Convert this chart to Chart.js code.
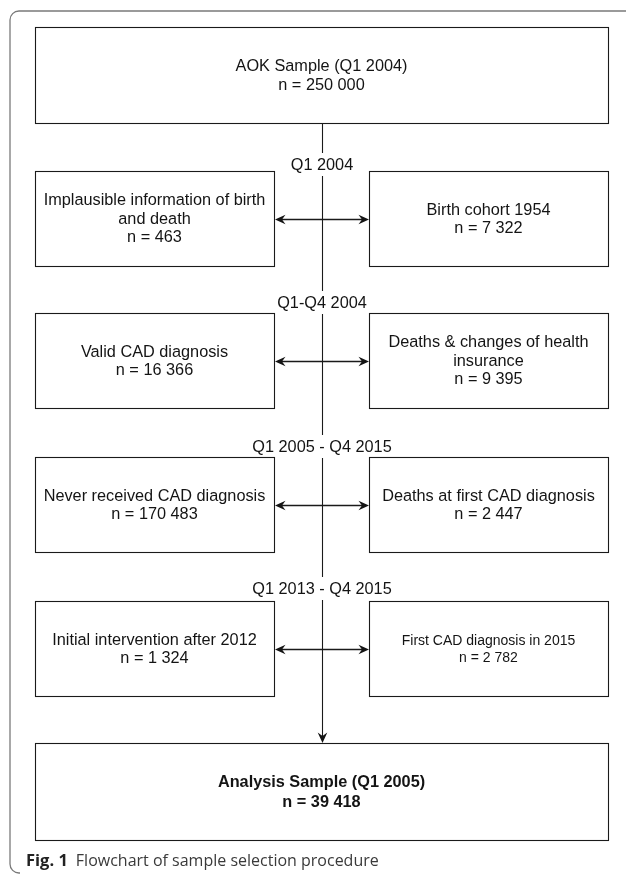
<!DOCTYPE html>
<html>
<head>
<meta charset="utf-8">
<script src="https://cdn.jsdelivr.net/npm/chart.js@4"></script>
<style>
  html, body { margin: 0; padding: 0; background: #fff; }
  #flow { display: block; }
</style>
</head>
<body>
<canvas id="flow" width="627" height="877"></canvas>
<script>
// sample selection steps
const startLabel = 'AOK Sample (Q1 2004)';
const startN = 250000;
const stages = ['Q1 2004', 'Q1-Q4 2004', 'Q1 2005 - Q4 2015', 'Q1 2013 - Q4 2015'];
const leftLabels = ['Implausible information of birth\nand death', 'Valid CAD diagnosis', 'Never received CAD diagnosis', 'Initial intervention after 2012'];
const leftN = [463, 16366, 170483, 1324];
const rightLabels = ['Birth cohort 1954', 'Deaths & changes of health\ninsurance', 'Deaths at first CAD diagnosis', 'First CAD diagnosis in 2015'];
const rightN = [7322, 9395, 2447, 2782];
const finalLabel = 'Analysis Sample (Q1 2005)';
const finalN = 39418;

// layout, in chart units (x: 0-627, y: 0-877 top down)
const layout = {
    mainX: [35, 608],
    startY: [27, 123],
    finalY: [743, 840],
    leftX: [35, 274],
    rightX: [369, 608],
    rowTop: [171, 313, 457, 601],
    rowH: 95,
    spineX: 322,
    stageY: [165, 303, 447, 589]
};

const fmt = n => String(n).replace(/\B(?=(\d{3})+(?!\d))/g, ' ');
const FONT = '"Liberation Sans", Arial, sans-serif';

const flowPlugin = {
    id: 'flow',
    afterDraw(chart) {
        const ctx = chart.ctx;
        const sx = chart.scales.x, sy = chart.scales.y;
        const X = v => sx.getPixelForValue(v);
        const Y = v => sy.getPixelForValue(v);

        ctx.save();

        // outer frame
        ctx.strokeStyle = '#7a7a7a';
        ctx.lineWidth = 1.3;
        ctx.beginPath();
        const r = 9;
        ctx.moveTo(X(626), Y(11));
        ctx.lineTo(X(10) + r, Y(11));
        ctx.arcTo(X(10), Y(11), X(10), Y(11) + r, r);
        ctx.lineTo(X(10), Y(873) - r);
        ctx.arcTo(X(10), Y(873), X(10) + r, Y(873), r);
        ctx.lineTo(X(20), Y(873));
        ctx.stroke();

        ctx.strokeStyle = '#1a1a1a';
        ctx.fillStyle = '#141414';
        ctx.lineWidth = 1.1;

        function box(x0, x1, y0, y1, lines, font, lh) {
            ctx.lineWidth = 1.1;
            ctx.strokeRect(Math.round(X(x0)) + 0.5, Math.round(Y(y0)) + 0.5,
                Math.round(X(x1) - X(x0)), Math.round(Y(y1) - Y(y0)));
            ctx.font = font;
            ctx.textAlign = 'center';
            ctx.textBaseline = 'middle';
            const cx = (X(x0) + X(x1)) / 2;
            const cy = (Y(y0) + Y(y1)) / 2 + 1;
            lines.forEach((t, i) => {
                ctx.fillText(t, cx, cy + (i - (lines.length - 1) / 2) * lh);
            });
        }

        function head(x, y, dx, dy) {
            // classic notched arrow head, tip at (x,y), pointing along (dx,dy)
            const L = 10.5, W = 4.8, N = 7;
            const px = -dy, py = dx;
            ctx.beginPath();
            ctx.moveTo(x, y);
            ctx.lineTo(x - dx * L + px * W, y - dy * L + py * W);
            ctx.lineTo(x - dx * N, y - dy * N);
            ctx.lineTo(x - dx * L - px * W, y - dy * L - py * W);
            ctx.closePath();
            ctx.fill();
        }

        const reg = '16.3px ' + FONT;
        box(layout.mainX[0], layout.mainX[1], layout.startY[0], layout.startY[1],
            [startLabel, 'n = ' + fmt(startN)], reg, 19.5);
        box(layout.mainX[0], layout.mainX[1], layout.finalY[0], layout.finalY[1],
            [finalLabel, 'n = ' + fmt(finalN)], 'bold 16.3px ' + FONT, 20);

        const spx = Math.round(X(layout.spineX)) + 0.5;
        let segStart = Y(layout.startY[1]);

        stages.forEach((s, i) => {
            const top = layout.rowTop[i], bot = top + layout.rowH;
            box(layout.leftX[0], layout.leftX[1], top, bot,
                leftLabels[i].split('\n').concat('n = ' + fmt(leftN[i])), reg, 18.5);
            const small = i === 3;
            box(layout.rightX[0], layout.rightX[1], top, bot,
                rightLabels[i].split('\n').concat('n = ' + fmt(rightN[i])),
                small ? '14px ' + FONT : reg, small ? 17 : 18.5);

            // stage label splits the spine
            ctx.lineWidth = 1.1;
            const ly = Y(layout.stageY[i]);
            ctx.beginPath();
            ctx.moveTo(spx, segStart);
            ctx.lineTo(spx, ly - 12);
            ctx.stroke();
            segStart = ly + 11;
            ctx.font = reg;
            ctx.textAlign = 'center';
            ctx.textBaseline = 'middle';
            ctx.fillText(s, X(layout.spineX), ly + 1);

            // double arrow between exclusion boxes
            const ay = Math.round(Y(top + layout.rowH / 2)) + 0.5;
            const ax0 = X(layout.leftX[1]) + 1, ax1 = X(layout.rightX[0]);
            ctx.lineWidth = 1.4;
            ctx.beginPath();
            ctx.moveTo(ax0 + 7, ay);
            ctx.lineTo(ax1 - 7, ay);
            ctx.stroke();
            head(ax0, ay, -1, 0);
            head(ax1, ay, 1, 0);
        });

        const tipY = Y(layout.finalY[0]);
        ctx.lineWidth = 1.1;
        ctx.beginPath();
        ctx.moveTo(spx, segStart);
        ctx.lineTo(spx, tipY - 7);
        ctx.stroke();
        head(spx, tipY, 0, 1);

        // caption
        ctx.textAlign = 'left';
        ctx.textBaseline = 'middle';
        ctx.fillStyle = '#222';
        ctx.font = 'bold 16.5px "Open Sans", sans-serif';
        const fig = 'Fig. 1';
        ctx.fillText(fig, X(26), Y(861));
        const w = ctx.measureText(fig).width;
        ctx.fillStyle = '#3a3a3a';
        ctx.font = '16px "Open Sans", sans-serif';
        ctx.fillText('Flowchart of sample selection procedure', X(26) + w + 8, Y(861));

        ctx.restore();
    }
};

new Chart(document.getElementById('flow').getContext('2d'), {
    type: 'scatter',
    data: { datasets: [] },
    options: {
        responsive: false,
        animation: false,
        layout: { padding: 0 },
        plugins: { legend: { display: false }, tooltip: { enabled: false } },
        scales: {
            x: { type: 'linear', min: 0, max: 627, display: false },
            y: { type: 'linear', min: 0, max: 877, reverse: true, display: false }
        }
    },
    plugins: [flowPlugin]
});
</script>
</body>
</html>
